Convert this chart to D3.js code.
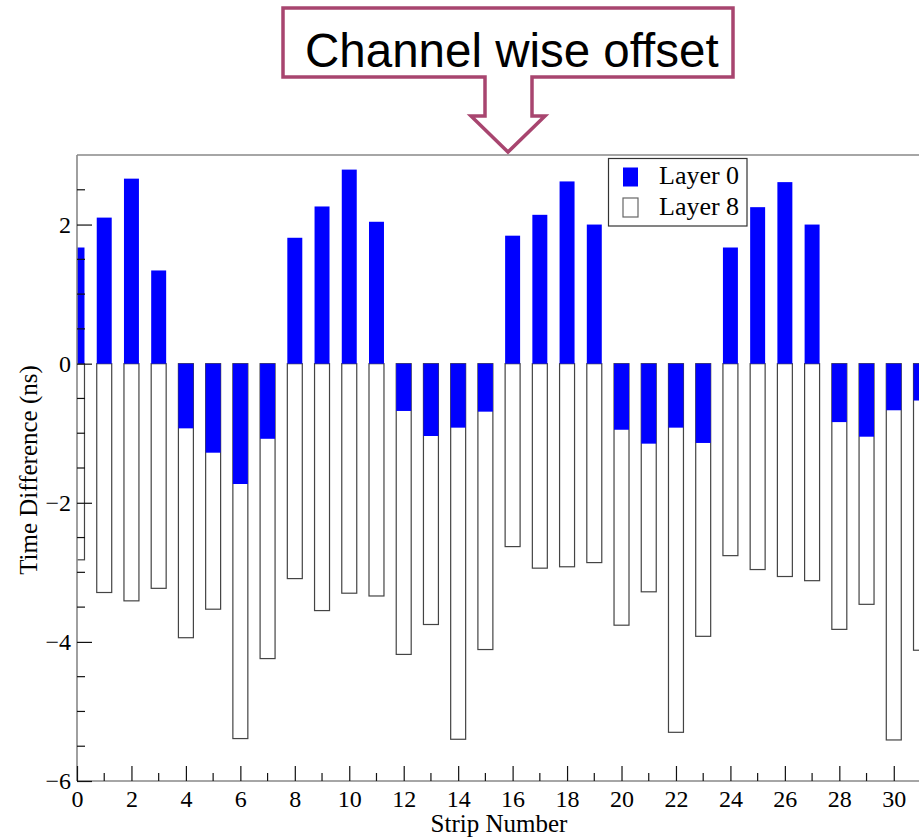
<!DOCTYPE html>
<html>
<head>
<meta charset="utf-8">
<script src="https://cdn.jsdelivr.net/npm/d3@7"></script>
<style>
  html, body { margin: 0; padding: 0; background: #fff; overflow: hidden; }
  svg { display: block; }
</style>
</head>
<body>
<svg id="chart" width="919" height="838"></svg>
<script>
// Strip numbers 0..31
const strips = d3.range(0, 32);

// Time difference per strip (ns)
const layer0 = [
  1.67, 2.10, 2.66, 1.34, -0.93, -1.28, -1.73, -1.08,
  1.81, 2.26, 2.79, 2.04, -0.68, -1.04, -0.92, -0.69,
  1.84, 2.14, 2.62, 2.00, -0.95, -1.15, -0.92, -1.14,
  1.67, 2.25, 2.61, 2.00, -0.84, -1.05, -0.67, -0.53
];
const layer8 = [
  -2.82, -3.29, -3.41, -3.23, -3.94, -3.53, -5.39, -4.24,
  -3.09, -3.55, -3.30, -3.34, -4.18, -3.75, -5.40, -4.11,
  -2.63, -2.94, -2.92, -2.86, -3.76, -3.28, -5.30, -3.92,
  -2.76, -2.96, -3.06, -3.12, -3.82, -3.46, -5.41, -4.12
];

const seriesNames = ["Layer 0", "Layer 8"];
const xTickValues = d3.range(0, 32, 2);
const yTickValues = [-6, -4, -2, 0, 2];
const xTitle = "Strip Number";
const yTitle = "Time Difference (ns)";
const calloutText = "Channel wise offset";

const svg = d3.select("#chart");
const plotLeft = 77, plotTop = 155, plotBottom = 781, plotRight = 921;

const x = d3.scaleLinear().domain([0, 31]).range([plotLeft, plotRight]);
const y = d3.scaleLinear().domain([-6, 3]).range([plotBottom, plotTop]);
const barW = 0.55 * (x(1) - x(0));

const serif = "'Liberation Serif', 'Times New Roman', serif";

// Clip bars to the plotting frame
svg.append("defs").append("clipPath").attr("id", "plotClip")
  .append("rect").attr("x", plotLeft).attr("y", plotTop)
  .attr("width", plotRight - plotLeft).attr("height", plotBottom - plotTop);

const plot = svg.append("g").attr("clip-path", "url(#plotClip)");

// Layer 8: open bars
plot.selectAll("rect.l8").data(strips).join("rect")
  .attr("class", "l8")
  .attr("x", d => x(d) - barW / 2)
  .attr("y", d => y(Math.max(0, layer8[d])))
  .attr("width", barW)
  .attr("height", d => Math.abs(y(layer8[d]) - y(0)))
  .attr("fill", "#fff")
  .attr("stroke", "#444")
  .attr("stroke-width", 1.2);

// Layer 0: solid blue bars drawn over
plot.selectAll("rect.l0").data(strips).join("rect")
  .attr("class", "l0")
  .attr("x", d => x(d) - barW / 2)
  .attr("y", d => y(Math.max(0, layer0[d])))
  .attr("width", barW)
  .attr("height", d => Math.abs(y(layer0[d]) - y(0)))
  .attr("fill", "#0000ff");

// Frame: left and bottom axes, top border
const frame = svg.append("g").attr("stroke", "#888").attr("stroke-width", 1.6).attr("fill", "none");
frame.append("line").attr("x1", plotLeft).attr("x2", plotLeft).attr("y1", plotTop).attr("y2", plotBottom);
frame.append("line").attr("x1", plotLeft).attr("x2", 919).attr("y1", plotBottom).attr("y2", plotBottom);
frame.append("line").attr("x1", plotLeft).attr("x2", 919).attr("y1", plotTop).attr("y2", plotTop);

// X axis ticks (inward) and labels
const xAxis = d3.axisBottom(x)
  .tickValues(xTickValues)
  .tickSizeInner(-15).tickSizeOuter(0)
  .tickPadding(9)
  .tickFormat(d3.format("d"));
const gx = svg.append("g").attr("transform", `translate(0,${plotBottom})`).call(xAxis);
gx.select(".domain").remove();
gx.selectAll(".tick line").attr("stroke", "#111").attr("stroke-width", 1.2);
gx.selectAll(".tick text").attr("font-family", serif).attr("font-size", 24).attr("fill", "#000");

// X minor ticks
svg.append("g").selectAll("line").data(d3.range(1, 32, 2)).join("line")
  .attr("x1", d => x(d)).attr("x2", d => x(d))
  .attr("y1", plotBottom).attr("y2", plotBottom - 8)
  .attr("stroke", "#111").attr("stroke-width", 1.2);

// Y axis ticks (inward) and labels
const yAxis = d3.axisLeft(y)
  .tickValues(yTickValues)
  .tickSizeInner(-15).tickSizeOuter(0)
  .tickPadding(6)
  .tickFormat(d3.format("d"));
const gy = svg.append("g").attr("transform", `translate(${plotLeft},0)`).call(yAxis);
gy.select(".domain").remove();
gy.selectAll(".tick line").attr("stroke", "#111").attr("stroke-width", 1.2);
gy.selectAll(".tick text").attr("font-family", serif).attr("font-size", 24).attr("fill", "#000")
  .attr("x", -6).attr("dy", "0.32em");

// Y minor ticks every 0.5
svg.append("g").selectAll("line")
  .data(d3.range(-5.5, 3, 0.5).filter(v => Math.abs(v % 2) > 1e-9))
  .join("line")
  .attr("x1", plotLeft).attr("x2", plotLeft + 8)
  .attr("y1", d => y(d)).attr("y2", d => y(d))
  .attr("stroke", "#111").attr("stroke-width", 1.2);

// Axis titles
svg.append("text")
  .attr("x", 499).attr("y", 832)
  .attr("text-anchor", "middle")
  .attr("font-family", serif).attr("font-size", 25)
  .text(xTitle);

svg.append("text")
  .attr("transform", `translate(37,${(plotTop + plotBottom) / 2 + 2}) rotate(-90)`)
  .attr("text-anchor", "middle")
  .attr("font-family", serif).attr("font-size", 25)
  .text(yTitle);

// Legend
const legend = svg.append("g");
legend.append("rect")
  .attr("x", 608.5).attr("y", 158.5).attr("width", 138.5).attr("height", 67.5)
  .attr("fill", "#fff").attr("stroke", "#333").attr("stroke-width", 1.2);
const legendRows = [
  { name: seriesNames[0], fill: "#0000ff", stroke: "none", cy: 177 },
  { name: seriesNames[1], fill: "#fff", stroke: "#666", cy: 207.5 }
];
legendRows.forEach(r => {
  legend.append("rect")
    .attr("x", 623).attr("y", r.cy - 9.5).attr("width", 15).attr("height", 19)
    .attr("fill", r.fill).attr("stroke", r.stroke).attr("stroke-width", 1.2);
  legend.append("text")
    .attr("x", 659).attr("y", r.cy + 7)
    .attr("font-family", serif).attr("font-size", 26)
    .text(r.name);
});

// Callout box with downward arrow
const callout = d3.path();
callout.moveTo(283, 8);
callout.lineTo(733, 8);
callout.lineTo(733, 77);
callout.lineTo(532, 77);
callout.lineTo(532, 116);
callout.lineTo(545, 116);
callout.lineTo(508, 152);
callout.lineTo(471, 116);
callout.lineTo(485, 116);
callout.lineTo(485, 77);
callout.lineTo(283, 77);
callout.closePath();
svg.append("path")
  .attr("d", callout.toString())
  .attr("fill", "#fff")
  .attr("stroke", "#a8456f")
  .attr("stroke-width", 3.5)
  .attr("stroke-linejoin", "miter");

svg.append("text")
  .attr("x", 305).attr("y", 67)
  .attr("font-family", "'Liberation Sans', Arial, sans-serif")
  .attr("font-size", 47.5)
  .attr("fill", "#000")
  .text(calloutText);
</script>
</body>
</html>
